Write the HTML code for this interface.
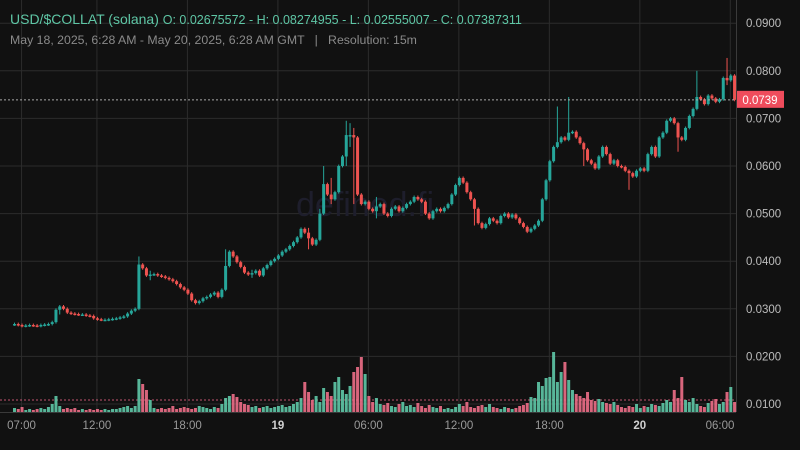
<!DOCTYPE html>
<html><head><meta charset="utf-8"><style>
html,body{margin:0;padding:0;background:#111111;width:800px;height:450px;overflow:hidden;font-family:"Liberation Sans",sans-serif}
#hdr{position:absolute;left:10px;top:11px;color:#5fc7a6;font-size:14px;white-space:nowrap}
#hdr span{font-size:12.5px}
#sub{position:absolute;left:10px;top:33px;color:#8a8a8a;font-size:12.3px;white-space:nowrap}
</style></head><body>
<svg id="chart" width="800" height="450" style="position:absolute;left:0;top:0"></svg>
<div id="hdr">USD/$COLLAT (solana) <span>O: 0.02675572 - H: 0.08274955 - L: 0.02555007 - C: 0.07387311</span></div>
<div id="sub">May 18, 2025, 6:28 AM - May 20, 2025, 6:28 AM GMT &nbsp;&nbsp;| &nbsp;&nbsp;Resolution: 15m</div>
<script>
const closes=[268,266,264,265,266,265,264,266,267,268,272,298,305,300,292,290,289,288,288,286,285,280,278,277,277,278,279,280,282,284,290,296,300,393,385,370,372,373,370,368,365,362,358,352,345,340,332,318,312,316,322,325,330,334,325,340,390,420,410,398,388,376,372,375,380,370,385,392,400,405,412,420,425,432,440,450,468,460,448,435,445,500,562,540,530,545,600,620,665,665,660,540,520,525,510,505,515,520,500,495,510,515,505,512,520,525,535,530,525,500,490,505,510,505,512,520,540,560,575,565,545,530,510,480,470,478,490,485,480,495,500,492,498,490,480,472,462,468,475,485,530,570,610,640,650,660,655,670,672,660,648,635,612,605,595,620,640,625,605,612,600,598,590,585,578,590,595,590,625,640,620,660,670,695,700,690,660,655,680,705,720,745,740,730,748,742,735,740,785,780,790,739];
const firstOpen=267;
const longWicks={12:[308,288],33:[410,300],36:[380,360],56:[425,385],63:[382,365],78:[470,425],81:[510,470],82:[600,500],84:[575,520],88:[695,600],89:[690,640],90:[680,520],96:[535,490],122:[530,475],144:[725,640],147:[745,660],151:[650,600],163:[592,550],176:[670,630],181:[800,730],189:[827,770]};
const vols=[4,3,5,2,3,2,3,4,3,5,8,16,6,3,4,3,4,2,3,2,3,2,3,2,3,2,3,3,4,5,6,4,6,33,28,22,12,4,3,4,3,4,6,3,4,5,4,3,4,6,5,4,3,5,4,8,14,16,18,15,10,8,7,5,6,4,5,6,4,5,6,7,5,6,8,10,14,30,20,12,16,10,24,20,16,30,35,22,18,26,40,45,55,38,16,10,14,8,7,9,6,5,8,10,6,7,5,9,6,4,7,5,4,6,3,4,3,5,8,6,10,5,4,6,7,5,8,5,4,3,5,4,3,4,6,7,9,15,14,30,26,34,35,60,30,40,50,32,22,18,16,14,20,12,11,13,10,9,8,10,7,5,4,6,5,8,4,6,5,8,7,6,9,12,10,22,14,35,12,10,14,8,6,5,9,11,13,8,10,20,25,10];
const yTicks=[0.09,0.08,0.07,0.06,0.05,0.04,0.03,0.02,0.01];
const xTicks=["07:00","12:00","18:00","19","06:00","12:00","18:00","20","06:00"];
const xTickIdx=[2,22,46,70,94,118,142,166,190];
const lastPrice=0.0739;

const svg=document.getElementById('chart');
const NS='http://www.w3.org/2000/svg';
function el(t,a){const e=document.createElementNS(NS,t);for(const k in a)e.setAttribute(k,a[k]);svg.appendChild(e);return e;}
const Y=p=>404-(p-0.01)*4760;
const X=i=>14.5+i*3.77;
const plotR=736;
yTicks.forEach(t=>{const l=el('line',{x1:0,x2:plotR,y1:Y(t),y2:Y(t),stroke:'#2c2c2c','stroke-width':1});


const tx=el('text',{x:746,y:Y(t)+4,fill:'#bdbdbd','font-size':11.5,'font-family':'Liberation Sans, sans-serif'});tx.textContent=t.toFixed(4);

});
xTicks.forEach((t,k)=>{const x=X(xTickIdx[k])-0.5;const l=el('line',{x1:x,x2:x,y1:0,y2:412,stroke:'#2c2c2c','stroke-width':1});


const tx=el('text',{x:Math.min(x,720),y:429,fill:(t.length<3?'#d0d0d0':'#9a9a9a'),'font-weight':(t.length<3?'bold':'normal'),'font-size':11.5,'text-anchor':'middle','font-family':'Liberation Sans, sans-serif'});tx.textContent=t;

});
el('line',{x1:plotR+0.5,x2:plotR+0.5,y1:0,y2:412,stroke:'#3a3a3a'});
el('line',{x1:0,x2:plotR,y1:412.5,y2:412.5,stroke:'#3a3a3a'});
const wm=el('text',{x:365,y:216,fill:'#1e1e2c','font-size':34,'text-anchor':'middle','font-family':'Liberation Sans, sans-serif'});wm.textContent='defined.fi';


const av=el('line',{x1:0,x2:plotR,y1:400,y2:400,stroke:'#e06080','stroke-dasharray':'2,2','stroke-width':1,opacity:0.85});


let prev=firstOpen;
closes.forEach((c,i)=>{
  const o=prev;prev=c;const up=c>=o;const col=up?'#26a69a':'#ef5350';
  const x=X(i);
  const vh=vols[i];
  const v=el('rect',{x:x-1.5,y:412-vh,width:3,height:vh,fill:up?'#5fc9a8':'#ee6f88',opacity:0.9});
  
  
  let hi=Math.max(o,c)+3,lo=Math.min(o,c)-3;
  if(longWicks[i]){hi=Math.max(hi,longWicks[i][0]);lo=Math.min(lo,longWicks[i][1]);}
  const w=el('line',{x1:x,x2:x,y1:Y(hi/1e4),y2:Y(lo/1e4),stroke:col,'stroke-width':1});
  
  
  const t=Y(Math.max(o,c)/1e4),b=Y(Math.min(o,c)/1e4);
  const r=el('rect',{x:x-1.5,y:t,width:3,height:Math.max(1.5,b-t),fill:col});
  
  
});
const ly=Y(lastPrice);
const pl=el('line',{x1:0,x2:plotR,y1:ly,y2:ly,stroke:'#aaaaaa','stroke-dasharray':'2,2','stroke-width':1});


const bx=el('rect',{x:737,y:ly-9,width:47,height:17,fill:'#ef4c5c'});


const bt=el('text',{x:760,y:ly+4,fill:'#ffffff','font-size':11.5,'text-anchor':'middle','font-family':'Liberation Sans, sans-serif'});bt.textContent=lastPrice.toFixed(4);


</script>
</body></html>
